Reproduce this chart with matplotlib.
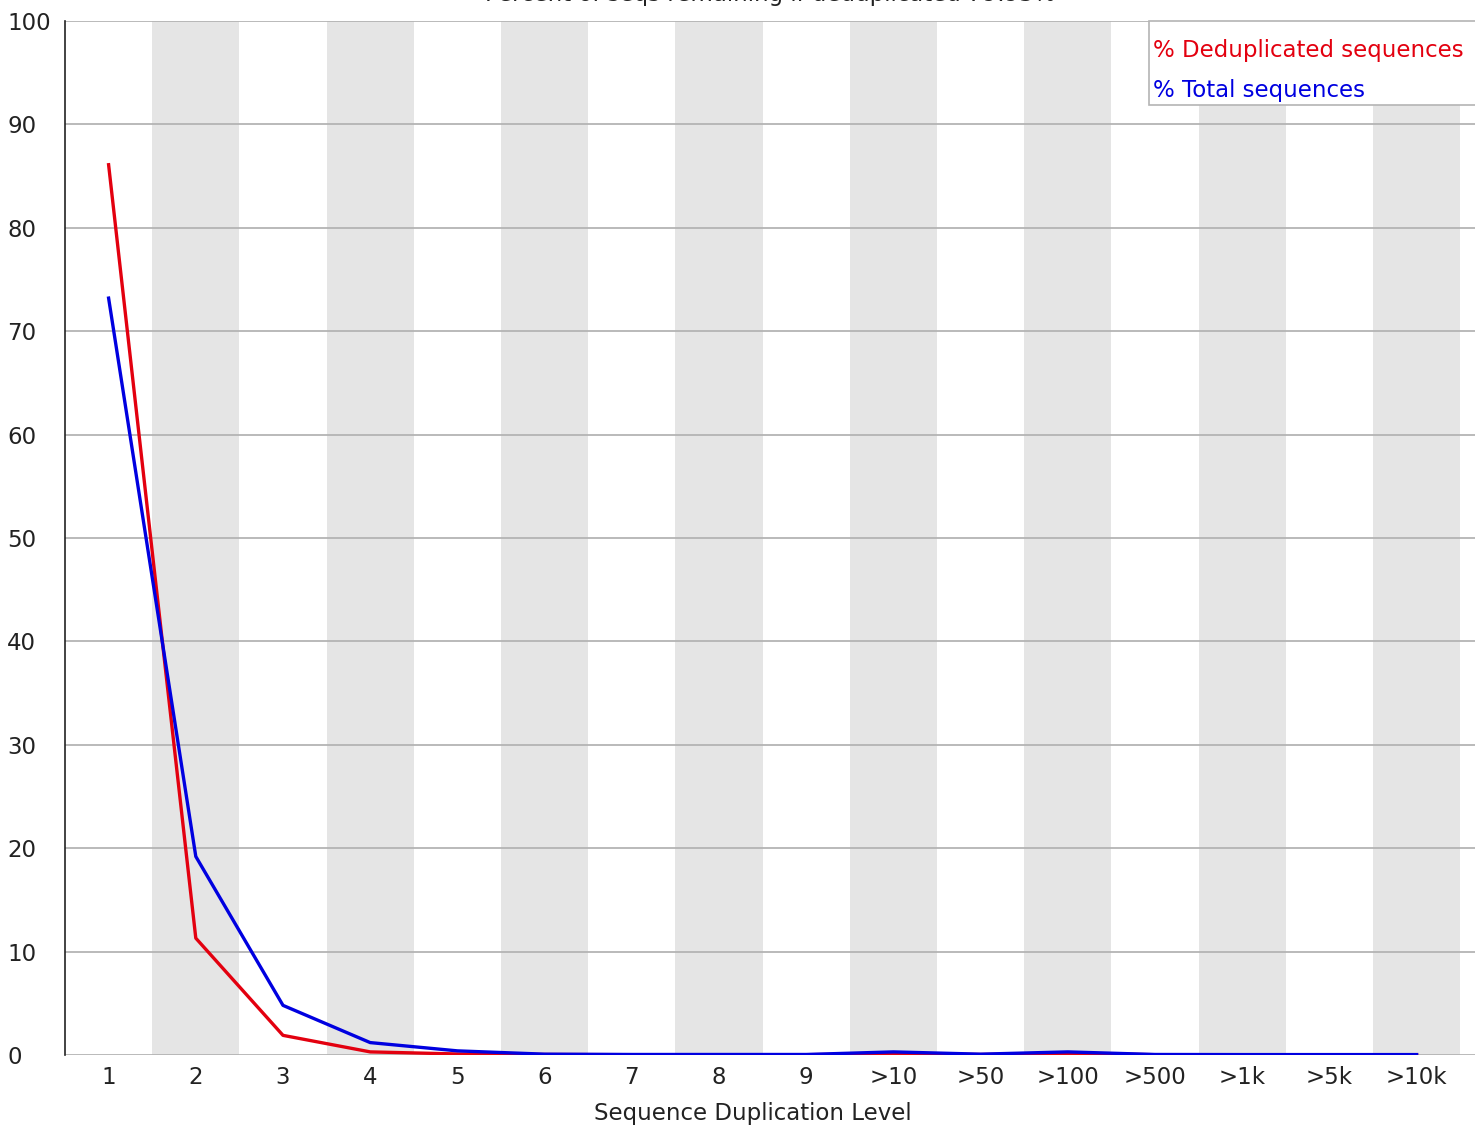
import matplotlib
matplotlib.use("Agg")
import matplotlib.pyplot as plt
from matplotlib.patches import Rectangle

levels = ['1', '2', '3', '4', '5', '6', '7', '8', '9', '>10', '>50', '>100', '>500', '>1k', '>5k', '>10k']
dedup = [86.1, 11.3, 1.9, 0.3, 0.1, 0.05, 0.03, 0.03, 0.03, 0.12, 0.05, 0.15, 0.03, 0.02, 0.02, 0.02]
total = [73.2, 19.2, 4.8, 1.2, 0.4, 0.08, 0.05, 0.05, 0.05, 0.3, 0.08, 0.3, 0.05, 0.04, 0.04, 0.04]
title = 'Percent of seqs remaining if deduplicated 79.93%'

W, H = 1475, 1129
fs = 16.5
fig = plt.figure(figsize=(W / 100, H / 100), dpi=100)
ax = fig.add_axes([65 / W, 1 - 1055 / H, 1 - 65 / W, (1055 - 21) / H])

x = list(range(len(levels)))
for i in x:
  if i % 2 == 1:
    ax.axvspan(i - 0.5, i + 0.5, color='#e5e5e5', lw=0, zorder=0)

for v in range(0, 101, 10):
  ax.axhline(v, color='#b4b4b4', lw=1.3, zorder=1)

ax.plot(x, dedup, color='#e3000f', lw=2.4, zorder=3)
ax.plot(x, total, color='#0000e0', lw=2.4, zorder=4)

ax.set_xlim(-0.5, 15.67)
ax.set_ylim(0, 100)
ax.set_xticks(x)
ax.set_xticklabels(levels)
ax.set_yticks(range(0, 101, 10))
ax.tick_params(length=0, labelsize=fs, colors='#222222')
ax.tick_params(axis='x', pad=8)
for t in ax.get_yticklabels():
  t.set_horizontalalignment('left')
  t.set_x(-53 / (W - 65))
for s in ['top', 'right', 'bottom']:
  ax.spines[s].set_visible(False)
ax.spines['left'].set_color('#222222')
ax.spines['left'].set_linewidth(1.2)

ax.set_xlabel('Sequence Duplication Level', fontsize=fs, color='#222222')
ax.xaxis.set_label_coords((753 - 65) / (W - 65), (1055 - 1102) / (1055 - 21))
fig.text(770 / W, 1 - 1.5 / H, title, ha='center', va='baseline', fontsize=fs, color='#222222')

# legend box, drawn in pixel positions
fig.patches.append(Rectangle((1149 / W, 1 - 105 / H), 340 / W, 84 / H, transform=fig.transFigure,
                             facecolor='white', edgecolor='#b4b4b4', lw=1.2, zorder=5))
fig.text(1153 / W, 1 - 50 / H, '% Deduplicated sequences', color='#e3000f', fontsize=fs, va='center', zorder=6)
fig.text(1153 / W, 1 - 90 / H, '% Total sequences', color='#0000e0', fontsize=fs, va='center', zorder=6)

fig.savefig('out.png', dpi=100)
